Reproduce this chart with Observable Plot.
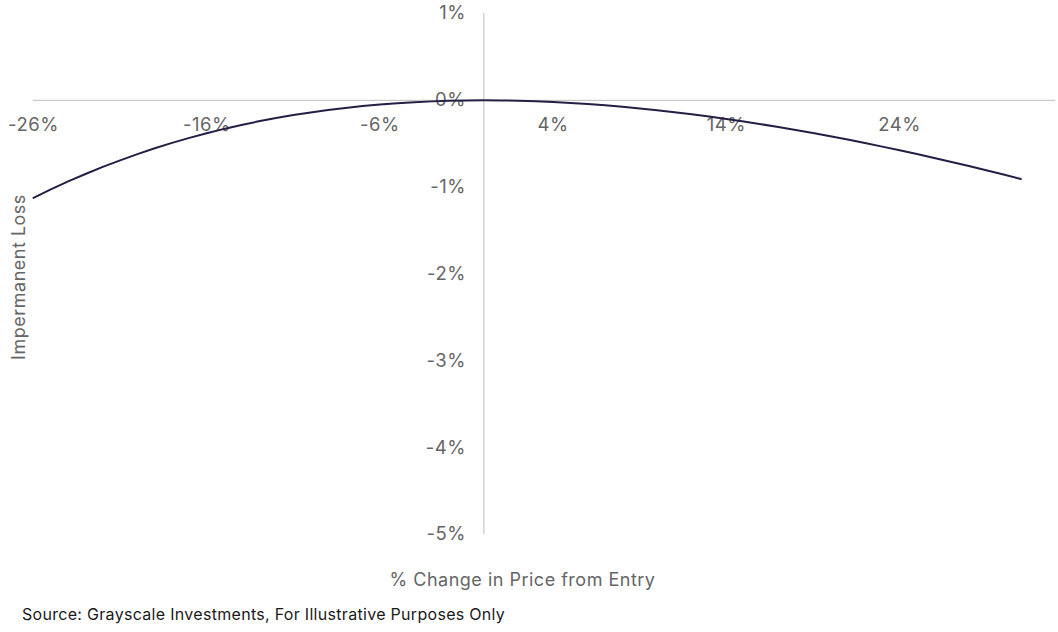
<!DOCTYPE html>
<html>
<head>
<meta charset="utf-8">
<script src="https://cdn.jsdelivr.net/npm/d3@7"></script>
<script src="https://cdn.jsdelivr.net/npm/@observablehq/plot@0.6"></script>
<style>
  body { margin: 0; background: #fff; font-family: Inter, "Noto Sans", sans-serif; }
  #caption { font-size: 16px; letter-spacing: 0.3px; line-height: 20px; color: #1a1a1a; margin: 4px 0 0 22px; }
  #chart svg text { letter-spacing: 0.5px; }
</style>
</head>
<body>
<div id="chart"></div>
<div id="caption">Source: Grayscale Investments, For Illustrative Purposes Only</div>
<script>
// % change in price from entry
const priceChange = [-26,-25,-24,-23,-22,-21,-20,-19,-18,-17,-16,-15,-14,-13,-12,-11,-10,-9,-8,-7,-6,-5,-4,-3,-2,-1,0,
  1,2,3,4,5,6,7,8,9,10,11,12,13,14,15,16,17,18,19,20,21,22,23,24,25,26,27,28,29,30,31];
// impermanent loss (%)
const impermanentLoss = [-1.123,-1.026,-0.934,-0.848,-0.767,-0.691,-0.619,-0.552,-0.490,-0.432,-0.379,-0.329,-0.284,-0.242,-0.204,-0.170,-0.139,-0.111,-0.087,-0.066,-0.048,-0.033,-0.021,-0.012,-0.005,-0.001,0,
  -0.001,-0.005,-0.011,-0.019,-0.030,-0.042,-0.057,-0.074,-0.093,-0.113,-0.136,-0.160,-0.186,-0.214,-0.244,-0.275,-0.307,-0.341,-0.377,-0.414,-0.452,-0.492,-0.533,-0.576,-0.619,-0.664,-0.710,-0.757,-0.805,-0.854,-0.905];
const xTicks = [-26, -16, -6, 4, 14, 24];
const yTicks = [1, 0, -1, -2, -3, -4, -5];
const xTitle = "% Change in Price from Entry";
const yTitle = "Impermanent Loss";

const data = priceChange.map((x, i) => ({x, y: impermanentLoss[i]}));

const chart = Plot.plot({
  width: 1058,
  height: 600,
  marginLeft: 33,
  marginRight: 3,
  marginTop: 13,
  marginBottom: 66,
  x: {domain: [-26, 33], axis: null},
  y: {domain: [-5, 1], axis: null},
  style: {fontFamily: "Inter, 'Noto Sans', sans-serif", fontSize: "18px", color: "#666", background: "#fff"},
  marks: [
    Plot.ruleY([0], {stroke: "#bdbdbd", strokeWidth: 1}),
    Plot.ruleX([0], {stroke: "#bdbdbd", strokeWidth: 1}),
    Plot.text(xTicks, {x: d => d, y: () => 0, text: d => `${d}%`, dy: 25, fill: "#666", fontSize: 18.5}),
    Plot.text(yTicks, {x: () => 0, y: d => d, text: d => `${d}%`, textAnchor: "end", dx: -18, fill: "#666", fontSize: 18.5}),
    Plot.text([yTitle], {frameAnchor: "left", textAnchor: "middle", rotate: -90, dx: -14, dy: 3, fill: "#666", fontSize: 18}),
    Plot.text([xTitle], {frameAnchor: "bottom", textAnchor: "middle", dy: 51, dx: -22, fill: "#666", fontSize: 18}),
    Plot.line(data, {x: "x", y: "y", stroke: "#231f45", strokeWidth: 2})
  ]
});
document.getElementById("chart").append(chart);
</script>
</body>
</html>
